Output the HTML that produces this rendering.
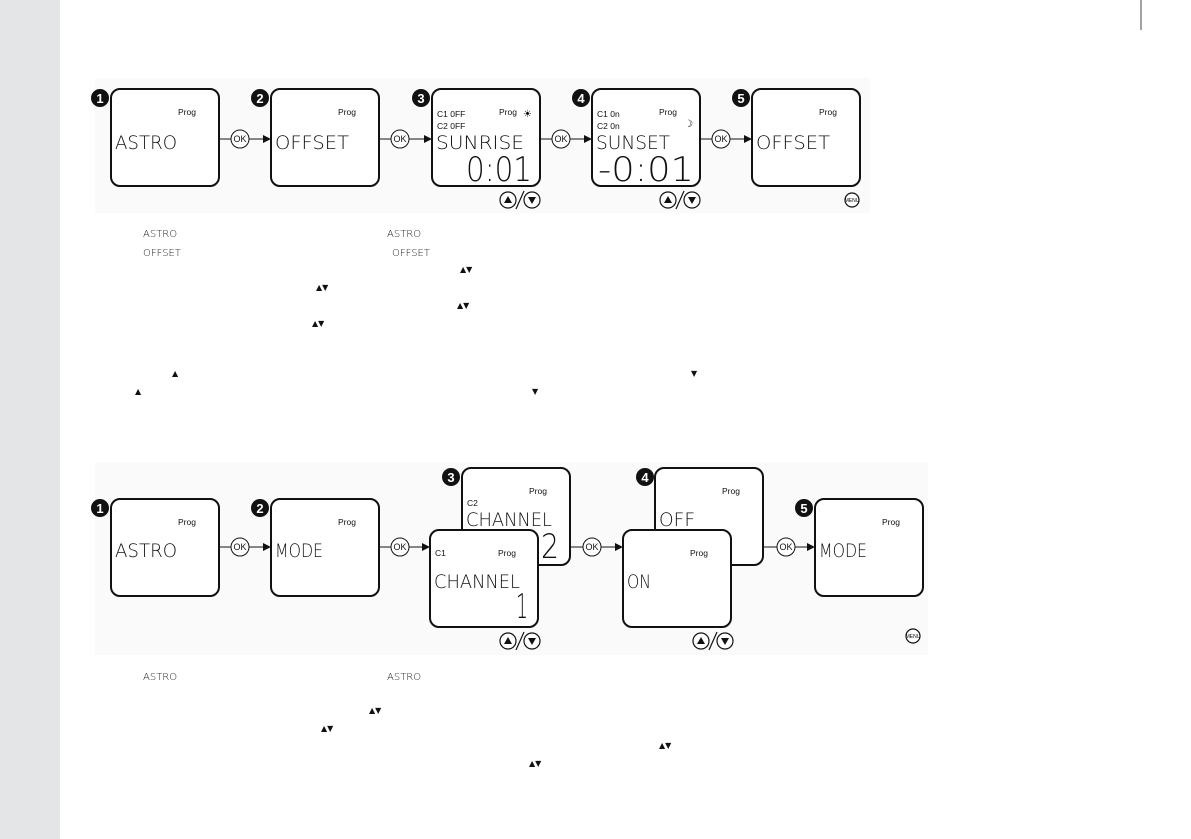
<!DOCTYPE html>
<html><head><meta charset="utf-8"><style>
body{margin:0;background:#fff;}
svg{display:block}
.lcd{font-family:"DejaVu Sans","Liberation Sans",sans-serif;font-weight:200;fill:#111}
.sm{font-family:"Liberation Sans",sans-serif;font-size:8.5px;fill:#111}
.num{font-family:"Liberation Sans",sans-serif;font-weight:bold;font-size:13px;fill:#fff;text-anchor:middle}
.ok{font-family:"Liberation Sans",sans-serif;font-size:9px;fill:#111;text-anchor:middle}
.lab{font-family:"DejaVu Sans",sans-serif;font-weight:200;font-size:10px;fill:#222}
</style></head><body>
<svg width="1191" height="839" viewBox="0 0 1191 839" xmlns="http://www.w3.org/2000/svg">
<defs>
<marker id="ar" markerWidth="8" markerHeight="8" refX="7" refY="4" orient="auto" markerUnits="userSpaceOnUse"><path d="M0,0 L8,4 L0,8 Z" fill="#111"/></marker>
</defs>
<rect x="0" y="0" width="60" height="839" fill="#e4e5e7"/>
<line x1="1141" y1="0" x2="1141" y2="30" stroke="#444" stroke-width="1"/>
<rect x="95" y="78" width="775" height="135" fill="#fafafa"/>
<rect x="95" y="462" width="833" height="193" fill="#fafafa"/>

<g stroke="#111" stroke-width="2" fill="#fff">
<rect x="111" y="89" width="108" height="97" rx="9"/>
<rect x="271" y="89" width="108" height="97" rx="9"/>
<rect x="432" y="89" width="108" height="97" rx="9"/>
<rect x="592" y="89" width="108" height="97" rx="9"/>
<rect x="752" y="89" width="108" height="97" rx="9"/>
<rect x="111" y="499" width="108" height="97" rx="9"/>
<rect x="271" y="499" width="108" height="97" rx="9"/>
<rect x="462" y="468" width="108" height="97" rx="9"/>
<rect x="430" y="530" width="108" height="97" rx="9"/>
<rect x="655" y="468" width="108" height="97" rx="9"/>
<rect x="623" y="530" width="108" height="97" rx="9"/>
<rect x="815" y="499" width="108" height="97" rx="9"/>
</g>

<g>
<circle cx="100" cy="98" r="9" fill="#111"/><text class="num" x="100" y="103">1</text>
<circle cx="260" cy="98" r="9" fill="#111"/><text class="num" x="260" y="103">2</text>
<circle cx="421" cy="98" r="9" fill="#111"/><text class="num" x="421" y="103">3</text>
<circle cx="581" cy="98" r="9" fill="#111"/><text class="num" x="581" y="103">4</text>
<circle cx="741" cy="98" r="9" fill="#111"/><text class="num" x="741" y="103">5</text>
<circle cx="100" cy="508" r="9" fill="#111"/><text class="num" x="100" y="513">1</text>
<circle cx="260" cy="508" r="9" fill="#111"/><text class="num" x="260" y="513">2</text>
<circle cx="451" cy="477" r="9" fill="#111"/><text class="num" x="451" y="482">3</text>
<circle cx="645" cy="477" r="9" fill="#111"/><text class="num" x="645" y="482">4</text>
<circle cx="804" cy="508" r="9" fill="#111"/><text class="num" x="804" y="513">5</text>
</g>

<g stroke="#111" stroke-width="1" fill="none">
<line x1="219" y1="139" x2="231" y2="139"/><line x1="249" y1="139" x2="270" y2="139" marker-end="url(#ar)"/>
<line x1="379" y1="139" x2="391" y2="139"/><line x1="409" y1="139" x2="431" y2="139" marker-end="url(#ar)"/>
<line x1="540" y1="139" x2="552" y2="139"/><line x1="570" y1="139" x2="591" y2="139" marker-end="url(#ar)"/>
<line x1="700" y1="139" x2="712" y2="139"/><line x1="730" y1="139" x2="751" y2="139" marker-end="url(#ar)"/>
<line x1="219" y1="547" x2="231" y2="547"/><line x1="249" y1="547" x2="270" y2="547" marker-end="url(#ar)"/>
<line x1="379" y1="547" x2="391" y2="547"/><line x1="409" y1="547" x2="429" y2="547" marker-end="url(#ar)"/>
<line x1="570" y1="547" x2="583" y2="547"/><line x1="601" y1="547" x2="622" y2="547" marker-end="url(#ar)"/>
<line x1="763" y1="547" x2="777" y2="547"/><line x1="795" y1="547" x2="814" y2="547" marker-end="url(#ar)"/>
<circle cx="240" cy="139" r="9" fill="#fff"/><circle cx="400" cy="139" r="9" fill="#fff"/>
<circle cx="561" cy="139" r="9" fill="#fff"/><circle cx="721" cy="139" r="9" fill="#fff"/>
<circle cx="240" cy="547" r="9" fill="#fff"/><circle cx="400" cy="547" r="9" fill="#fff"/>
<circle cx="592" cy="547" r="9" fill="#fff"/><circle cx="786" cy="547" r="9" fill="#fff"/>
</g>
<g class="ok">
<text x="240" y="142">OK</text><text x="400" y="142">OK</text><text x="561" y="142">OK</text><text x="721" y="142">OK</text>
<text x="240" y="550">OK</text><text x="400" y="550">OK</text><text x="592" y="550">OK</text><text x="786" y="550">OK</text>
</g>

<g stroke="#111" stroke-width="1.2" fill="#fff">
<circle cx="508" cy="200" r="8"/><circle cx="532" cy="200" r="8"/>
<circle cx="668" cy="200" r="8"/><circle cx="692" cy="200" r="8"/>
<circle cx="508" cy="641" r="8"/><circle cx="532" cy="641" r="8"/>
<circle cx="701" cy="641" r="8"/><circle cx="725" cy="641" r="8"/>
<line x1="516" y1="209" x2="524" y2="191"/><line x1="676" y1="209" x2="684" y2="191"/>
<line x1="516" y1="650" x2="524" y2="632"/><line x1="709" y1="650" x2="717" y2="632"/>
<circle cx="852" cy="200" r="7"/><circle cx="913" cy="636" r="7"/>
</g>
<g fill="#111">
<path d="M504,203 L512,203 L508,196Z"/><path d="M528,197 L536,197 L532,204Z"/>
<path d="M664,203 L672,203 L668,196Z"/><path d="M688,197 L696,197 L692,204Z"/>
<path d="M504,644 L512,644 L508,637Z"/><path d="M528,638 L536,638 L532,645Z"/>
<path d="M697,644 L705,644 L701,637Z"/><path d="M721,638 L729,638 L725,645Z"/>
</g>
<text x="852" y="202" font-family="Liberation Sans" font-size="5" text-anchor="middle">MENU</text>
<text x="913" y="638" font-family="Liberation Sans" font-size="5" text-anchor="middle">MENU</text>

<g class="sm">
<text x="178" y="115">Prog</text><text x="338" y="115">Prog</text><text x="499" y="115">Prog</text>
<text x="659" y="115">Prog</text><text x="819" y="115">Prog</text>
<text x="437" y="117">C1 0FF</text><text x="437" y="129">C2 0FF</text>
<text x="597" y="117">C1 0n</text><text x="597" y="129">C2 0n</text>
<text x="178" y="525">Prog</text><text x="338" y="525">Prog</text><text x="529" y="494">Prog</text>
<text x="467" y="506">C2</text><text x="435" y="556">C1</text><text x="498" y="556">Prog</text>
<text x="722" y="494">Prog</text><text x="690" y="556">Prog</text><text x="882" y="525">Prog</text>
</g>
<text x="523" y="117" font-size="10" font-family="DejaVu Sans">☀</text>
<text x="684" y="127" font-size="10" font-family="DejaVu Sans">☽</text>

<g class="lcd" font-size="19">
<text x="115" y="149" textLength="62" lengthAdjust="spacingAndGlyphs">ASTRO</text>
<text x="275" y="149" textLength="74" lengthAdjust="spacingAndGlyphs">OFFSET</text>
<text x="436" y="149" textLength="88" lengthAdjust="spacingAndGlyphs">SUNRISE</text>
<text x="596" y="149" textLength="74" lengthAdjust="spacingAndGlyphs">SUNSET</text>
<text x="756" y="149" textLength="74" lengthAdjust="spacingAndGlyphs">OFFSET</text>
<text x="115" y="557" textLength="62" lengthAdjust="spacingAndGlyphs">ASTRO</text>
<text x="275" y="557" textLength="48" lengthAdjust="spacingAndGlyphs">MODE</text>
<text x="819" y="557" textLength="48" lengthAdjust="spacingAndGlyphs">MODE</text>
<text x="466" y="526" textLength="86" lengthAdjust="spacingAndGlyphs">CHANNEL</text>
<text x="434" y="588" textLength="86" lengthAdjust="spacingAndGlyphs">CHANNEL</text>
<text x="627" y="588" textLength="24" lengthAdjust="spacingAndGlyphs">ON</text>
<text x="659" y="526" textLength="36" lengthAdjust="spacingAndGlyphs">OFF</text>
</g>
<g class="lcd" font-size="34">
<text x="466" y="181" textLength="66" lengthAdjust="spacingAndGlyphs">0:01</text>
<text x="598" y="181" textLength="96" lengthAdjust="spacingAndGlyphs">-0:01</text>
<text x="541" y="558" textLength="18" lengthAdjust="spacingAndGlyphs">2</text>
<text x="516" y="618" textLength="12" lengthAdjust="spacingAndGlyphs">1</text>
</g>

<g class="lab">
<text x="143" y="237">ASTRO</text><text x="387" y="237">ASTRO</text>
<text x="143" y="256">OFFSET</text><text x="392" y="256">OFFSET</text>
<text x="143" y="680">ASTRO</text><text x="387" y="680">ASTRO</text>
</g>
<g font-family="DejaVu Sans" font-size="8" fill="#111">
<text x="460" y="272">▲▼</text>
<text x="316" y="290">▲▼</text>
<text x="457" y="308">▲▼</text>
<text x="312" y="326">▲▼</text>
<text x="172" y="376">▲</text>
<text x="135" y="394">▲</text>
<text x="532" y="394">▼</text>
<text x="691" y="376">▼</text>
<text x="369" y="713">▲▼</text>
<text x="321" y="731">▲▼</text>
<text x="659" y="748">▲▼</text>
<text x="529" y="766">▲▼</text>
</g>
</svg>
</body></html>
